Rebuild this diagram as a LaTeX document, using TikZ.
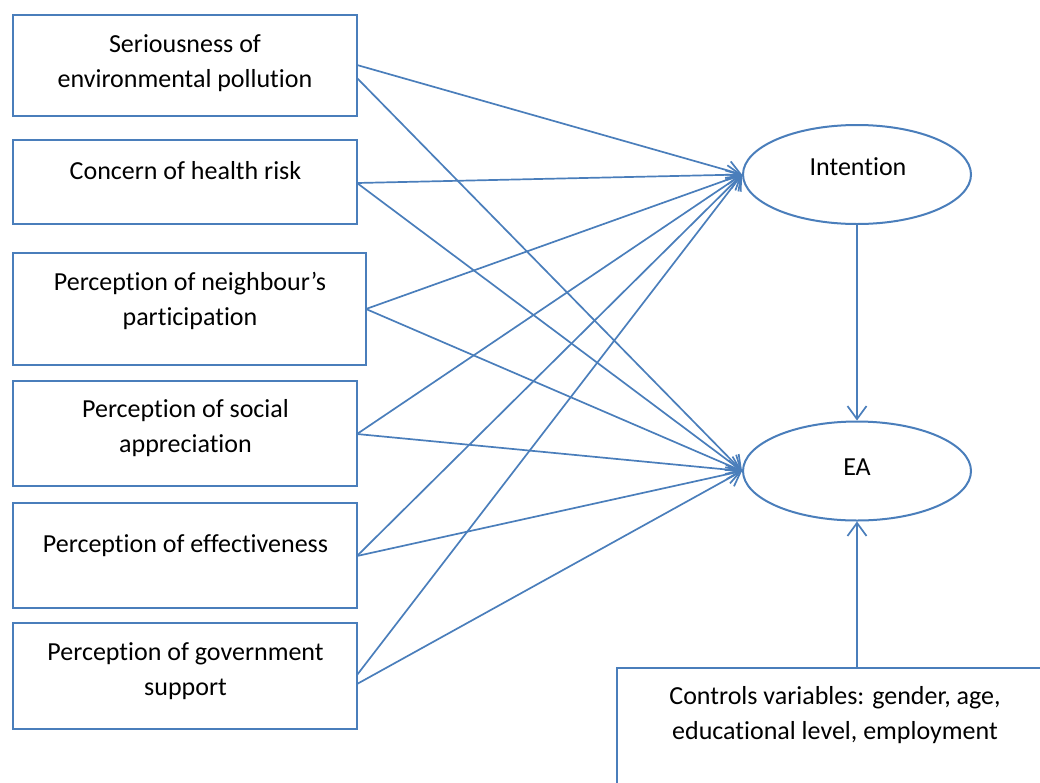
\documentclass[tikz,border=0pt]{standalone}
\usepackage{fontspec}
\setmainfont{Carlito}[Ligatures={NoCommon}]
\usetikzlibrary{arrows.meta,shapes.geometric}
\definecolor{lineblue}{HTML}{4A7EBB}
\tikzset{
  box/.style={draw=lineblue,line width=2pt,rectangle,inner sep=0pt},
  ell/.style={draw=lineblue,line width=2pt,ellipse,inner sep=0pt,minimum width=228pt,minimum height=99pt},
  txt/.style={inner sep=0pt,align=center,font=\fontsize{26}{35}\selectfont,text=black},
  conn/.style={draw=lineblue,line width=1.7pt,-{Straight Barb[length=13pt,width=19pt,line width=1.7pt]}},
}
\begin{document}
\begin{tikzpicture}[x=1pt,y=-1pt]
\useasboundingbox (0,0) rectangle (1040,782);
% left boxes
\node[box,minimum width=344pt,minimum height=101pt] (b1) at (185,65.5) {};
\node[box,minimum width=344pt,minimum height=84pt]  (b2) at (185,182) {};
\node[box,minimum width=353pt,minimum height=112pt] (b3) at (189.5,309) {};
\node[box,minimum width=344pt,minimum height=105pt] (b4) at (185,433.5) {};
\node[box,minimum width=344pt,minimum height=105pt] (b5) at (185,555.5) {};
\node[box,minimum width=344pt,minimum height=106pt] (b6) at (185,676) {};
% texts
\node[txt] (t1) at (185,63) {Seriousness of\\environmental pollution};
\node[txt,anchor=base] (t2) at (185.5,179) {Concern of health risk};
\node[txt] (t3) at (190,301) {Perception of neighbour’s\\participation};
\node[txt] (t4) at (185.5,428) {Perception of social\\appreciation};
\node[txt,anchor=base] (t5) at (185.5,552) {Perception of effectiveness};
\node[txt] (t6) at (185.5,671) {Perception of government\\support};
% ellipses
\node[ell] (int) at (857,174.5) {};
\node[txt,anchor=base] (tint) at (858,175) {Intention};
\node[ell] (ea) at (857,471) {};
\node[txt,anchor=base] (tea) at (857,475) {EA};
% control box (open at right and bottom)
\draw[draw=lineblue,line width=2pt] (1045,668) -- (617,668) -- (617,790);
\node[txt] (ctrl) at (835,715.5) {Controls variables: gender, age,\\educational level, employment};
\coordinate (ctop) at (857,668);
% source points
\coordinate (s1a) at (357,65);
\coordinate (s1b) at (357,78);
\coordinate (s2) at (357,183);
\coordinate (s3) at (366,309);
\coordinate (s4) at (357,434);
\coordinate (s5) at (357,556);
\coordinate (s6a) at (357,675);
\coordinate (s6b) at (357,684);
% connectors to Intention
\foreach \s in {s1a,s2,s3,s4,s5,s6a} \draw[conn] (\s) -- (int.west);
% connectors to EA
\foreach \s in {s1b,s2,s3,s4,s5,s6b} \draw[conn] (\s) -- (ea.west);
\draw[conn] (int.south) -- (ea.north);
\draw[conn] (ctop) -- (ea.south);
\end{tikzpicture}
\end{document}
